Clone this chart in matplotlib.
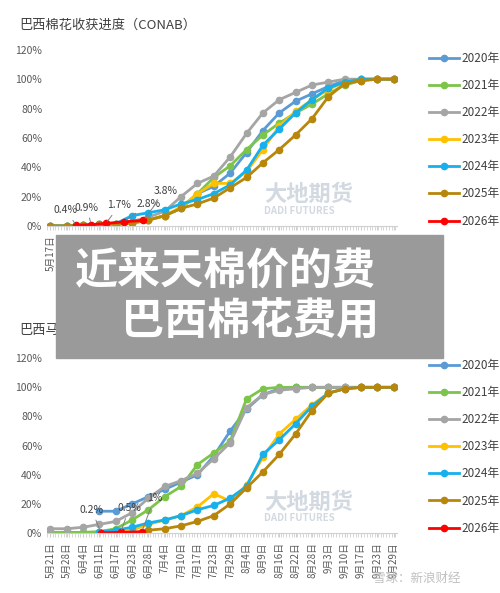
import matplotlib
matplotlib.use("Agg")
import matplotlib.pyplot as plt
import numpy as np
from matplotlib.patches import Rectangle

plt.rcParams['font.family'] = ['Noto Sans CJK SC', 'DejaVu Sans']
nan = np.nan
years = ['2020年', '2021年', '2022年', '2023年', '2024年', '2025年', '2026年']
colors = ['#5B9BD5', '#7CC44A', '#A5A5A5', '#FFC000', '#17B0EC', '#B8860B', '#FF0000']

top_labels = ['5月17日','5月26日','6月2日','6月9日','6月16日','6月23日','6月30日','7月7日','7月14日',
              '7月21日','7月28日','8月4日','8月11日','8月18日','8月25日','9月1日','9月8日','9月15日',
              '9月22日','9月29日','10月6日','10月11日']
top_series = {
    '2020年': [0,0,0.3,0.6,1,2,4,7,12,22,27,36,50,65,77,85,90,95,99,100,100,100],
    '2021年': [0,0,0.3,0.6,1,2,4,7,12,22,33,41,52,62,70,77,83,90,96,99,100,100],
    '2022年': [0,0,0.5,1,1.5,3,6,10,20,29,34,47,63,77,86,91,96,98,100,100,100,100],
    '2023年': [0,0,0,0.4,1,2,4,7,13,22,29,29,37,52,68,78,86,93,98,100,100,100],
    '2024年': [0,0,0.5,1,1.5,7,9,11,15,18,22,28,38,55,66,77,86,94,98,100,100,100],
    '2025年': [0,0,0.5,1,1.5,2,4,7,12,15,19,26,33,43,52,62,73,88,97,99,100,100],
}
top_red_x = [1.6, 2.5, 3.4, 4.5, 5.7]
top_red_y = [0.4, 0.9, 1.7, 2.8, 3.8]
top_red_lbl = ['0.4%', '0.9%', '1.7%', '2.8%', '3.8%']

bot_labels = ['5月21日','5月28日','6月4日','6月11日','6月17日','6月23日','6月28日','7月4日','7月10日',
              '7月17日','7月23日','7月29日','8月4日','8月9日','8月16日','8月22日','8月28日','9月3日',
              '9月10日','9月17日','9月23日','9月29日']
bot_series = {
    '2020年': [nan,nan,nan,15,15,20,25,30,35,40,53,70,85,95,99,100,100,100,100,100,100,100],
    '2021年': [0.5,0.5,0.5,1,3,9,16,25,32,47,55,63,92,99,100,100,100,100,100,100,100,100],
    '2022年': [3,3,4,6,8,14,24,32,36,41,51,62,86,95,98,99,100,100,100,100,100,100],
    '2023年': [nan,nan,nan,nan,0.5,2,6,9,12,18,27,22,33,52,68,78,88,96,99,100,100,100],
    '2024年': [nan,nan,nan,1,2,4,7,9,12,16,19,24,32,54,64,75,87,96,99,100,100,100],
    '2025年': [nan,nan,nan,nan,nan,nan,2,3,5,8,12,20,31,42,54,68,84,96,99,100,100,100],
}
bot_red_x = [3.1, 4.3, 5.6]
bot_red_y = [0.2, 0.5, 1.0]
bot_red_lbl = ['0.2%', '0.5%', '1%']

fig = plt.figure(figsize=(5, 5.93), dpi=100)

def draw(ax, labels, series, rx, ry, rl, lbl_pos, title, title_y):
    x = np.arange(len(labels))
    for yname, c in zip(years[:-1], colors[:-1]):
        ax.plot(x, series[yname], color=c, lw=2, marker='o', ms=4.5, label=yname)
    ax.plot(rx, ry, color=colors[-1], lw=2, marker='o', ms=4.5, label=years[-1])
    for (px, py), (tx, ty), t in zip(zip(rx, ry), lbl_pos, rl):
        ax.annotate(t, (px, py), xytext=(tx, ty), textcoords='data', fontsize=7.5, color='#404040',
                    arrowprops=dict(arrowstyle='-', color='#808080', lw=0.7))
    ax.set_xlim(-0.2, len(labels) - 0.8)
    ax.set_ylim(0, 120)
    ax.set_yticks(range(0, 121, 20))
    ax.set_yticklabels([f'{v}%' for v in range(0, 121, 20)], fontsize=7.5, color='#595959')
    ax.set_xticks(x)
    ax.set_xticklabels(labels, rotation=90, fontsize=7, color='#595959')
    ax.set_xticks(np.arange(-0.2, len(labels) - 0.8, 0.17), minor=True)
    ax.tick_params(axis='x', which='both', length=3, color='#D0D0D0')
    ax.tick_params(axis='y', length=0)
    for s in ['top', 'right', 'left']:
        ax.spines[s].set_visible(False)
    ax.spines['bottom'].set_color('#D0D0D0')
    ax.legend(loc='lower left', bbox_to_anchor=(1.06, -0.07), frameon=False, fontsize=8.5,
              labelspacing=1.2, handlelength=2.6, handletextpad=0.2, labelcolor='#404040')
    ax.text(-0.08, title_y, title, transform=ax.transAxes, fontsize=9.5, color='#404040', va='center')
    ax.text(0.62, 0.14, '大地期货', transform=ax.transAxes, fontsize=16, color='#C8D0DA',
            fontweight='bold', alpha=0.8)
    ax.text(0.62, 0.07, 'DADI FUTURES', transform=ax.transAxes, fontsize=7, color='#C8D0DA',
            fontweight='bold', alpha=0.8)

ax1 = fig.add_axes([0.094, 0.619, 0.70, 0.297])
draw(ax1, top_labels, top_series, top_red_x, top_red_y, top_red_lbl,
     [(0.2, 8.5), (1.5, 10.5), (3.5, 12), (5.3, 13), (6.3, 22)], '巴西棉花收获进度（CONAB）', 1.14)
ax2 = fig.add_axes([0.094, 0.101, 0.70, 0.295])
draw(ax2, bot_labels, bot_series, bot_red_x, bot_red_y, bot_red_lbl,
     [(1.8, 14), (4.1, 15), (5.9, 22)], '巴西马托格罗索州棉花收获进度（IMEA）', 1.16)

fig.patches.append(Rectangle((56/500, 1-358/593), 387/500, 123/593, transform=fig.transFigure,
                             color='#9A9A9A', zorder=5))
fig.text(0.45, 1-272/593, '近来天棉价的费', ha='center', va='center', fontsize=31, color='white',
         fontweight='bold', zorder=6)
fig.text(0.50, 1-322/593, '巴西棉花费用', ha='center', va='center', fontsize=31, color='white',
         fontweight='bold', zorder=6)
fig.text(0.92, 1-578/593, '雪球：新浪财经', ha='right', va='center', fontsize=9, color='#C0C0C0')

fig.savefig('out.png', dpi=100, facecolor='white')
